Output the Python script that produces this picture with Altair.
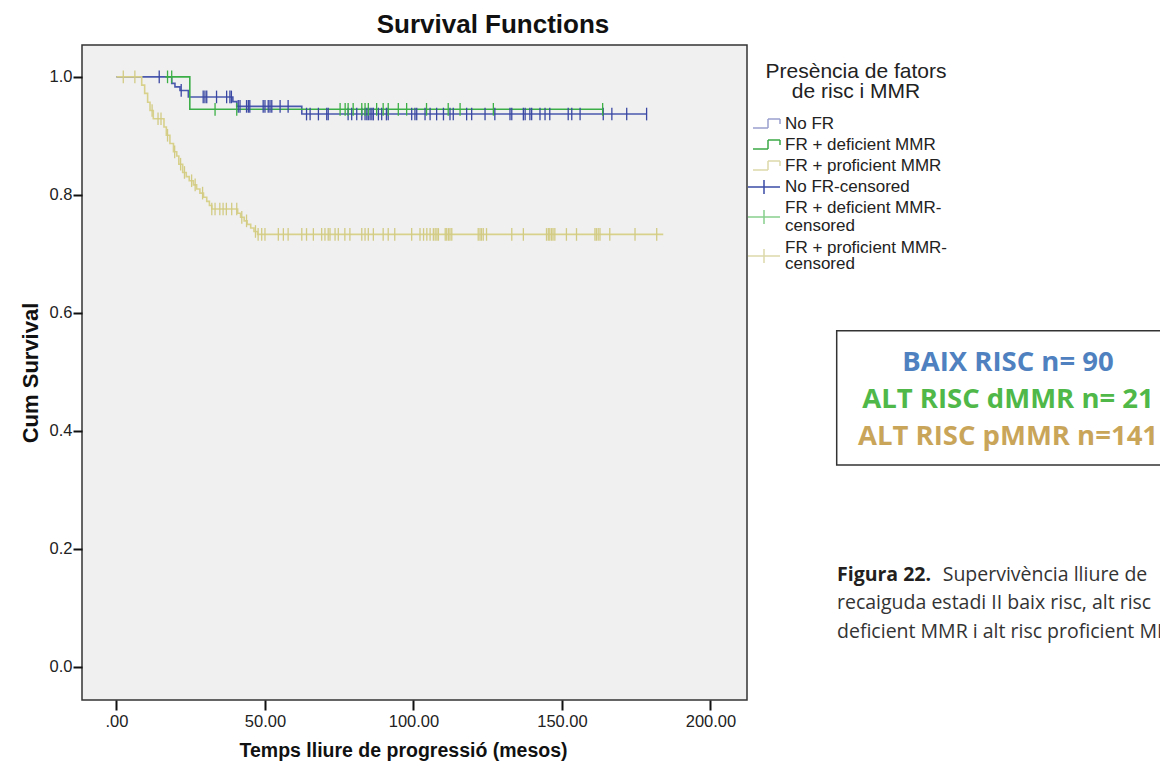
import altair as alt
import pandas as pd
import numpy as np

# ---------------- data ----------------
groups = ["No FR", "FR + deficient MMR", "FR + proficient MMR"]
cens_names = ["No FR-censored", "FR + deficient MMR-censored", "FR + proficient MMR-censored"]
line_colors = ["#4a58ad", "#3cae48", "#d8d18c"]
cens_colors = ["#3a48a3", "#3cb045", "#d2cb84"]

# step curves: event times and survival after each event
blue_t = [0, 18.6, 19.7, 21.4, 24.2, 39.2, 40.5, 62.4]
blue_s = [1.0, 0.989, 0.983, 0.977, 0.966, 0.958, 0.950, 0.937]
blue_end = 178.5

green_t = [16.5, 24.7]
green_s = [1.0, 0.945]
green_end = 163.7

beige_t = [0, 8.5, 9.5, 10.5, 11.3, 12.4, 16.0, 16.8, 18.0, 19.2, 20.3, 21.0, 22.3,
           23.5, 24.5, 25.9, 27.0, 28.1, 29.3, 30.4, 31.3, 32.1, 40.8, 41.8, 43.0,
           44.0, 45.2, 46.3, 47.5]
beige_s = [1.0, 0.986, 0.972, 0.957, 0.943, 0.929, 0.915, 0.901, 0.887, 0.873, 0.866,
           0.852, 0.838, 0.831, 0.824, 0.817, 0.810, 0.803, 0.796, 0.789, 0.782, 0.776,
           0.769, 0.762, 0.756, 0.750, 0.744, 0.738, 0.733]
beige_end = 184.1

# censored observation times
blue_cens = [14.4, 21.8, 29.2, 29.8, 30.4, 33.7, 37.1, 38.2, 38.7,
             41.0, 41.6, 43.8, 44.4, 44.9, 49.4, 50.0, 51.1, 51.7, 52.3, 55.1, 57.8,
             64.0, 65.2, 68.0, 70.8, 71.3, 78.0, 79.2, 80.9, 82.6, 83.7, 84.3, 84.8,
             85.4, 86.0, 86.5, 88.2, 89.3, 90.9, 91.5, 99.4, 100.5, 101.1, 103.9,
             105.6, 107.8, 110.1, 112.3, 113.4, 117.9, 119.6, 124.1, 127.4, 132.5,
             133.1, 137.0, 137.6, 139.2, 139.8, 142.6, 144.3, 145.9, 152.1, 153.3,
             156.1, 163.9, 166.8, 171.8, 178.5]
green_cens = [17.2, 18.6, 33.2, 40.5, 75.3, 77.0, 78.0, 79.7, 82.6, 83.7, 84.8,
              87.6, 89.8, 91.5, 94.9, 97.7, 104.4, 111.7, 115.7, 126.9, 163.7]
beige_cens = [2.3, 6.2, 12.0, 14.0, 15.0, 17.2, 19.6, 21.6, 22.9, 25.3, 26.5, 29.0,
              32.1, 33.2, 34.8, 35.9, 37.0, 38.8, 40.5, 42.2, 43.8, 46.8,
              47.7, 48.9, 50.0, 54.5, 56.2, 57.8, 62.4, 64.0, 66.3, 69.1, 70.2,
              71.3, 71.9, 73.6, 74.7, 76.9, 78.6, 82.6, 83.7, 84.8, 86.5, 89.8,
              91.5, 93.7, 99.4, 102.2, 103.4, 104.5, 105.6, 106.7, 107.3, 107.9,
              108.4, 110.7, 111.2, 111.8, 112.3, 112.9, 121.8, 122.4, 122.9, 123.5,
              124.6, 133.1, 137.0, 144.8, 145.4, 145.9, 146.5, 147.0, 147.6, 151.5,
              154.9, 161.1, 161.6, 162.2, 162.8, 166.1, 174.6, 181.9]

x_ticks = [0, 50, 100, 150, 200]
y_ticks = [0.0, 0.2, 0.4, 0.6, 0.8, 1.0]

legend_title = ["Presència de fators", "de risc i MMR"]
legend_labels = ["No FR", "FR + deficient MMR", "FR + proficient MMR", "No FR-censored",
                 "FR + deficient MMR-", "censored", "FR + proficient MMR-", "censored"]

box_lines = ["BAIX RISC n= 90", "ALT RISC dMMR n= 21", "ALT RISC pMMR n=141"]
box_colors = ["#4f81c0", "#4fb848", "#c9a55a"]

caption_bold = "Figura 22."
caption_rest = "Supervivència lliure de"
caption_lines = ["recaiguda estadi II baix risc, alt risc",
                 "deficient MMR i alt risc proficient MMR"]

# ---------------- build tables ----------------
rows = []
cens_rows = []
for g, cname, ts, ss, tend, cens in [
    (groups[0], cens_names[0], blue_t, blue_s, blue_end, blue_cens),
    (groups[1], cens_names[1], green_t, green_s, green_end, green_cens),
    (groups[2], cens_names[2], beige_t, beige_s, beige_end, beige_cens),
]:
    for i, (t, s) in enumerate(zip(ts, ss)):
        rows.append({"g": g, "t": t, "s": s, "o": i})
    rows.append({"g": g, "t": tend, "s": ss[-1], "o": len(ts)})
    ta = np.array(ts)
    for c in cens:
        idx = max(int(np.searchsorted(ta, c, side="right")) - 1, 0)
        cens_rows.append({"g": cname, "t": c, "s": ss[idx]})

steps = pd.DataFrame(rows)
cens_df = pd.DataFrame(cens_rows)

color_scale = alt.Scale(domain=groups + cens_names, range=line_colors + cens_colors)
FONT = "Liberation Sans"

x_enc = alt.X("t:Q",
              scale=alt.Scale(domain=[-11.6, 212.3], nice=False, zero=False),
              axis=alt.Axis(values=x_ticks,
                            labelExpr="datum.value == 0 ? '.00' : format(datum.value, '.2f')",
                            title="Temps lliure de progressió (mesos)",
                            grid=False, domain=False, tickSize=10, tickWidth=2,
                            tickColor="#111", labelFontSize=16.5, labelFont=FONT,
                            labelColor="#222", labelPadding=3, titleFont=FONT,
                            titleFontSize=19.5, titleFontWeight="bold", titleColor="#111",
                            titlePadding=12, titleX=321))
y_enc = alt.Y("s:Q",
              scale=alt.Scale(domain=[-0.056, 1.054], nice=False, zero=False),
              axis=alt.Axis(values=y_ticks, format=".1f", title="Cum Survival",
                            grid=False, domain=False, tickSize=9, tickWidth=2,
                            tickColor="#111", labelFontSize=16.5, labelFont=FONT,
                            labelColor="#222", labelPadding=1, titleFont=FONT,
                            titleFontSize=22, titleFontWeight="bold", titleColor="#111",
                            titlePadding=7))

lines = alt.Chart(steps).mark_line(interpolate="step-after", strokeWidth=1.6).encode(
    x=x_enc, y=y_enc,
    color=alt.Color("g:N", scale=color_scale, legend=None),
    order="o:Q",
    detail="g:N",
)

cens = alt.Chart(cens_df).mark_point(
    shape="M0,-1L0,1", size=160, strokeWidth=1.3, filled=False, opacity=1
).encode(
    x="t:Q", y="s:Q",
    color=alt.Color("g:N", scale=color_scale, legend=None),
)

one = pd.DataFrame({"a": [0]})


def txt(s, x, y, size=17, weight="normal", color="#222", align="left", font=FONT):
    return alt.Chart(one).mark_text(
        text=s, fontSize=size, fontWeight=weight, color=color, align=align,
        baseline="middle", font=font
    ).encode(x=alt.value(x), y=alt.value(y))


def seg(x1, x2, y1, y2, color, w=1.5):
    return alt.Chart(one).mark_rule(color=color, strokeWidth=w).encode(
        x=alt.value(x1), x2=alt.value(x2), y=alt.value(y1), y2=alt.value(y2))


layers = [lines, cens]

# chart title
layers.append(txt("Survival Functions", 411, -20, size=26, weight="bold", color="#111", align="center"))

# legend
layers.append(txt(legend_title[0], 774, 27, size=21, align="center"))
layers.append(txt(legend_title[1], 774, 47, size=21, align="center"))
label_y = [79, 100, 121, 142, 163, 181, 203, 219]
for lab, ly in zip(legend_labels, label_y):
    layers.append(txt(lab, 703, ly))
step_cols = ["#9aa1cf", "#3aa845", "#dcd8ab"]
for col, ly in zip(step_cols, label_y[:3]):
    lo, hi = ly + 4, ly - 5
    layers += [seg(671, 686, lo, lo, col), seg(686, 686, lo, hi, col),
               seg(686, 698, hi, hi, col), seg(698, 698, hi, ly, col)]
cross_cols = ["#3b4ba6", "#86cf8b", "#dcd8ab"]
for col, cy in zip(cross_cols, [142, 172, 211]):
    layers += [seg(666, 698, cy, cy, col), seg(682, 682, cy - 7, cy + 7, col)]

# annotation box
layers.append(alt.Chart(one).mark_rect(filled=False, stroke="#333", strokeWidth=1.5).encode(
    x=alt.value(754.7), x2=alt.value(1200), y=alt.value(285.7), y2=alt.value(420)))
for s, col, by in zip(box_lines, box_colors, [318, 355, 392]):
    layers.append(txt(s, 926, by, size=27.5, weight="bold", color=col, align="center", font="Open Sans"))

# caption
layers.append(txt(caption_bold, 755, 530, size=19.5, weight="bold", color="#231f20", font="Open Sans"))
layers.append(txt(caption_rest, 860.7, 530, size=19.5, color="#333", font="Open Sans"))
for s, cy in zip(caption_lines, [558, 587]):
    layers.append(txt(s, 755, cy, size=19.5, color="#333", font="Open Sans"))

chart = alt.layer(*layers).properties(
    width=665, height=655,
    autosize=alt.AutoSizeParams(type="none"),
    padding={"left": 74, "top": 37, "right": 413, "bottom": 63},
    background="white",
).configure_view(stroke="#333", strokeWidth=1.5, fill="#f0f0f0")

chart.save("out.html", embed_options={"renderer": "svg", "actions": False})
